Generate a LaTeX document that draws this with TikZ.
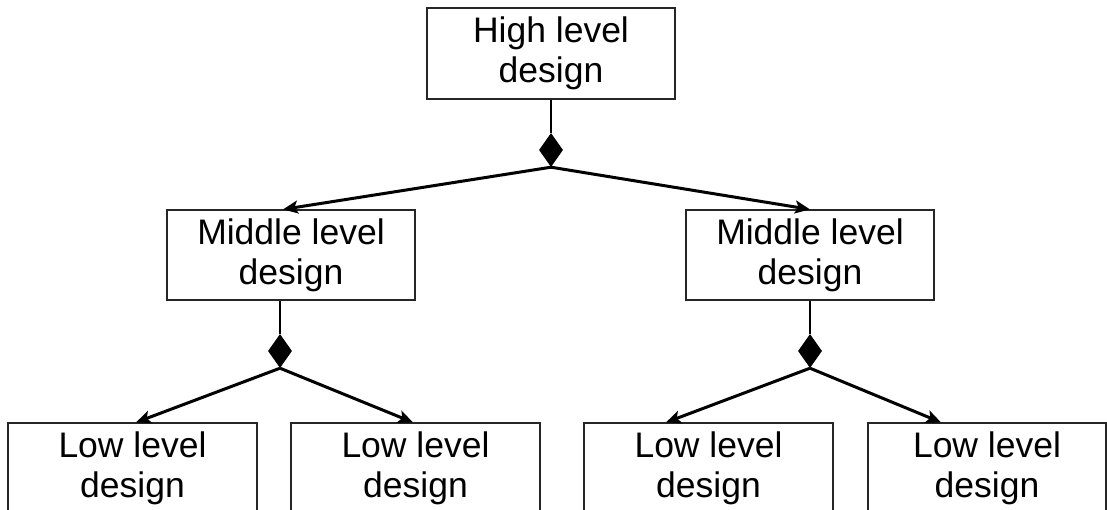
\documentclass[tikz,border=0pt]{standalone}
\usepackage{fontspec}
\setmainfont{Liberation Sans}
\usetikzlibrary{arrows.meta,shapes.geometric}

\begin{document}
\begin{tikzpicture}[x=1pt,y=-1pt,
  designbox/.style={draw=black!85, line width=1.2pt, fill=white,
    inner sep=0pt, align=center,
    font=\fontsize{35.5}{40}\selectfont},
  joint/.style={diamond, fill=black, draw=none, inner sep=0pt,
    minimum width=24pt, minimum height=34pt},
  stem/.style={line width=1.4pt},
  branch/.style={line width=3pt,
    -{Stealth[length=15pt,width=13pt,inset=3.5pt]}}]
  % page frame
  \clip (0,0) rectangle (1107,510);
  \fill[white] (0,0) rectangle (1107,510);

  % boxes
  \node[designbox, minimum width=248pt, minimum height=91pt] (high) at (551,53.5) {High level\\design};
  \node[designbox, minimum width=248pt, minimum height=90pt] (midL) at (291,255) {Middle level\\design};
  \node[designbox, minimum width=248pt, minimum height=90pt] (midR) at (810,255) {Middle level\\design};
  \node[designbox, minimum width=249pt, minimum height=91pt] (low1) at (132.5,468.5) {Low level\\design};
  \node[designbox, minimum width=249pt, minimum height=91pt] (low2) at (415.5,468.5) {Low level\\design};
  \node[designbox, minimum width=249pt, minimum height=91pt] (low3) at (708.5,468.5) {Low level\\design};
  \node[designbox, minimum width=238pt, minimum height=91pt] (low4) at (987,468.5) {Low level\\design};

  % aggregation diamonds
  \node[joint] (jHigh) at (551,150) {};
  \node[joint] (jMidL) at (280,351) {};
  \node[joint] (jMidR) at (810,351) {};

  % stems from boxes to diamonds
  \draw[stem] (high.south) -- (jHigh.north);
  \draw[stem] (jMidL.north |- midL.south) -- (jMidL.north);
  \draw[stem] (jMidR.north |- midR.south) -- (jMidR.north);

  % branches to the lower level
  \draw[branch] (jHigh.south) -- ([xshift=-8pt]midL.north);
  \draw[branch] (jHigh.south) -- (midR.north);
  \draw[branch] (jMidL.south) -- ([xshift=3.5pt]low1.north);
  \draw[branch] (jMidL.south) -- ([xshift=-2.5pt]low2.north);
  \draw[branch] (jMidR.south) -- ([xshift=-42.5pt]low3.north);
  \draw[branch] (jMidR.south) -- ([xshift=-46pt]low4.north);
\end{tikzpicture}
\end{document}
